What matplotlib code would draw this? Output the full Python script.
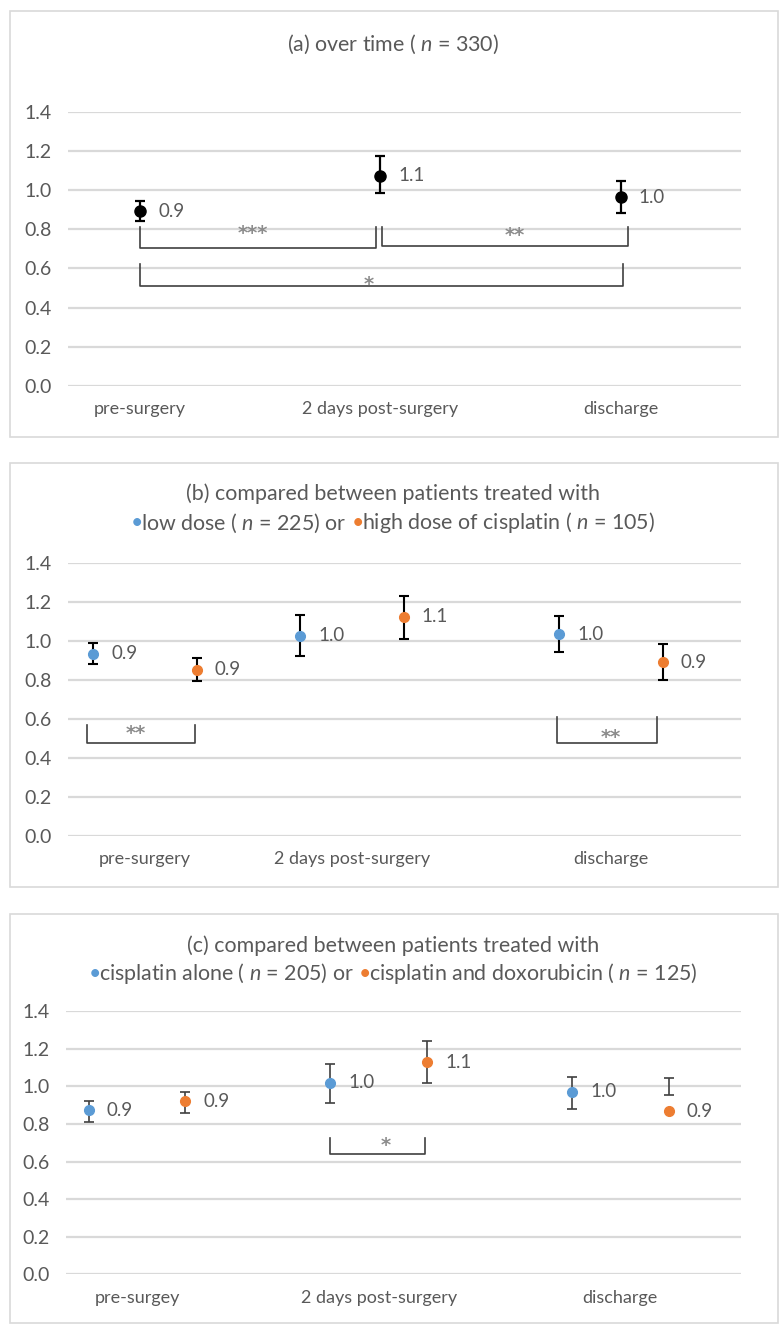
import numpy as np
import matplotlib
matplotlib.use('Agg')
import matplotlib.pyplot as plt
from matplotlib.patches import Rectangle

plt.rcParams['font.family'] = ['Lato', 'DejaVu Sans']
plt.rcParams['mathtext.fontset'] = 'custom'
plt.rcParams['mathtext.rm'] = 'Lato'
plt.rcParams['mathtext.it'] = 'Lato:italic'

TEXT = '#595959'
GRID = '#d9d9d9'
BLUE = '#5b9bd5'
ORANGE = '#ed7d31'
BRACKET = '#404040'
STAR = '#8c8c8c'

# ---- data -------------------------------------------------------------
# (a) over time
a_pos = [1, 2, 3]
a_labels = ['pre-surgery', '2 days post-surgery', 'discharge']
a_mean = [0.893, 1.072, 0.963]
a_lo = [0.842, 0.987, 0.882]
a_hi = [0.943, 1.176, 1.045]
a_text = ['0.9', '1.1', '1.0']
# brackets: x0, x1, top, bottom, stars, star x, star y
a_brackets = [(1.0, 1.98, 0.81, 0.704, '***', 1.47, 0.80),
              (2.005, 3.03, 0.81, 0.716, '**', 2.56, 0.788),
              (1.0, 3.01, 0.624, 0.508, '*', 1.95, 0.538)]

# (b) low vs high dose of cisplatin
b_pos = [1, 2, 3.25]
b_labels = ['pre-surgery', '2 days post-surgery', 'discharge']
b_low_mean = [0.934, 1.026, 1.033]
b_low_lo = [0.880, 0.924, 0.941]
b_low_hi = [0.990, 1.130, 1.125]
b_low_text = ['0.9', '1.0', '1.0']
b_high_mean = [0.852, 1.124, 0.890]
b_high_lo = [0.794, 1.009, 0.797]
b_high_hi = [0.912, 1.231, 0.984]
b_high_text = ['0.9', '1.1', '0.9']
b_brackets = [(0.72, 1.24, 0.57, 0.478, '**', 0.957, 0.547),
              (2.99, 3.47, 0.611, 0.475, '**', 3.25, 0.524)]

# (c) cisplatin alone vs cisplatin + doxorubicin
c_pos = [1, 2, 3]
c_labels = ['pre-surgey', '2 days post-surgery', 'discharge']
c_alone_mean = [0.874, 1.020, 0.972]
c_alone_lo = [0.809, 0.912, 0.881]
c_alone_hi = [0.924, 1.118, 1.048]
c_alone_text = ['0.9', '1.0', '1.0']
c_doxo_mean = [0.922, 1.128, 0.867]
c_doxo_lo = [0.857, 1.020, 0.954]
c_doxo_hi = [0.972, 1.243, 1.045]
c_doxo_text = ['0.9', '1.1', '0.9']
c_brackets = [(1.80, 2.19, 0.724, 0.64, '*', 2.03, 0.706)]

W, H = 780, 1332
fig = plt.figure(figsize=(W / 100, H / 100), dpi=100)


def px_box(x0, y0, x1, y1):
    # pixel box (top-left origin) -> figure fraction rect
    return [x0 / W, 1 - y1 / H, (x1 - x0) / W, (y1 - y0) / H]


def setup_axes(rect, pos, labels, xlim):
    ax = fig.add_axes(rect)
    ax.set_ylim(0, 1.4)
    ax.set_xlim(*xlim)
    ax.set_yticks(np.arange(0, 1.41, 0.2))
    ax.set_yticklabels(['%.1f' % v for v in np.arange(0, 1.41, 0.2)])
    ax.set_xticks(pos)
    ax.set_xticklabels(labels)
    ax.tick_params(length=0, labelcolor=TEXT)
    ax.tick_params(axis='y', pad=12, labelsize=14)
    ax.tick_params(axis='x', pad=11, labelsize=13)
    for s in ax.spines.values():
        s.set_visible(False)
    ax.yaxis.grid(True, color=GRID, lw=1.6)
    ax.set_axisbelow(True)
    return ax


def series(ax, x, mean, lo, hi, texts, color, ecolor, ms=7, elw=1.3):
    lo, hi = np.array(lo), np.array(hi)
    ax.errorbar(x, (lo + hi) / 2, yerr=(hi - lo) / 2, fmt='none',
                ecolor=ecolor, elinewidth=elw, capsize=3.5, capthick=elw,
                zorder=3)
    ax.plot(x, mean, 'o', ms=ms, color=color, mec=color, zorder=4)
    for xi, yi, t in zip(x, mean, texts):
        ax.annotate(t, (xi, yi), xytext=(13, 0), textcoords='offset points',
                    va='center', ha='left', fontsize=13.5, color=TEXT)


def brackets(ax, items):
    for x0, x1, top, bot, s, sx, sy in items:
        ax.plot([x0, x0, x1, x1], [top, bot, bot, top], color=BRACKET,
                lw=1.2, solid_joinstyle='round', zorder=2)
        # asterisks sit high in the em box: anchor the baseline below
        ax.annotate(s, (sx, sy), xytext=(0, -6.8), textcoords='offset points',
                    ha='center', va='baseline', fontsize=14, fontweight='bold',
                    family='DejaVu Sans', color=STAR, zorder=2)


def title_line(y, parts, size=15.4, cx=393):
    # parts: (text, color, gap in px before)
    r = fig.canvas.get_renderer()
    items = []
    total = 0
    for s, col, gap in parts:
        t = fig.text(0, 1 - y / H, s, color=col, fontsize=size,
                     ha='left', va='center')
        w = t.get_window_extent(r).width
        items.append((t, w, gap))
        total += gap + w
    x = cx - total / 2
    for t, w, gap in items:
        x += gap
        t.set_x(x / W)
        x += w


# frames
for y0, y1 in [(11, 437), (463, 887), (914, 1323)]:
    fig.add_artist(Rectangle((10 / W, 1 - y1 / H), 768 / W, (y1 - y0) / H,
                             transform=fig.transFigure, fill=False,
                             edgecolor=GRID, lw=1.2))

# (a)
ax = setup_axes(px_box(68, 111.7, 741, 386), a_pos, a_labels, (0.70, 3.50))
series(ax, a_pos, a_mean, a_lo, a_hi, a_text, 'black', 'black', ms=8, elw=1.6)
brackets(ax, a_brackets)
title_line(44, [('(a) over time ( $\\mathit{n}$ = 330)', TEXT, 0)])

# (b)
off_b = 0.25
ax = setup_axes(px_box(68, 562.7, 741, 836), b_pos, b_labels, (0.628, 3.878))
series(ax, np.array(b_pos) - off_b, b_low_mean, b_low_lo, b_low_hi,
       b_low_text, BLUE, 'black', elw=1.5)
series(ax, np.array(b_pos) + off_b, b_high_mean, b_high_lo, b_high_hi,
       b_high_text, ORANGE, 'black', elw=1.5)
brackets(ax, b_brackets)
title_line(494, [('(b) compared between patients treated with', TEXT, 0)])
title_line(523, [('\u2022', BLUE, 0),
                 ('low dose ( $\\mathit{n}$ = 225) or', TEXT, -2),
                 ('\u2022', ORANGE, 5),
                 ('high dose of cisplatin ( $\\mathit{n}$ = 105)', TEXT, -2)])

# (c)
off_c = 0.2
ax = setup_axes(px_box(66, 1011.3, 741, 1274.3), c_pos, c_labels, (0.706, 3.50))
series(ax, np.array(c_pos) - off_c, c_alone_mean, c_alone_lo, c_alone_hi,
       c_alone_text, BLUE, BRACKET, elw=1.2)
series(ax, np.array(c_pos) + off_c, c_doxo_mean, c_doxo_lo, c_doxo_hi,
       c_doxo_text, ORANGE, BRACKET, elw=1.2)
brackets(ax, c_brackets)
title_line(946, [('(c) compared between patients treated with', TEXT, 0)])
title_line(974, [('\u2022', BLUE, 0),
                 ('cisplatin alone ( $\\mathit{n}$ = 205) or', TEXT, -2),
                 ('\u2022', ORANGE, 5),
                 ('cisplatin and doxorubicin ( $\\mathit{n}$ = 125)', TEXT, -2)])

fig.savefig('out.png', dpi=100)
